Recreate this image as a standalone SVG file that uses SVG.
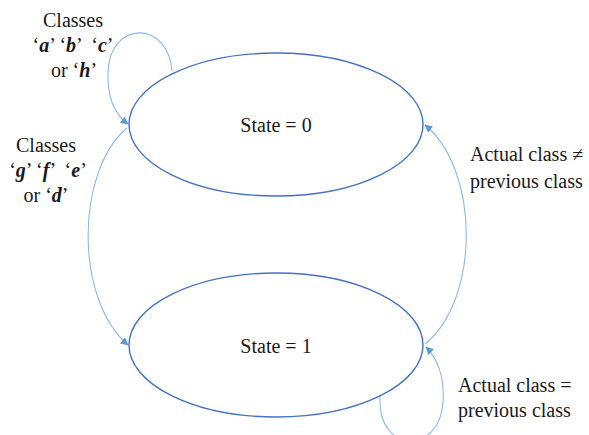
<svg xmlns="http://www.w3.org/2000/svg" width="589" height="435" viewBox="0 0 589 435">
  <defs>
    <marker id="arrow" viewBox="0 0 10 10" refX="9" refY="5" markerWidth="8" markerHeight="8" markerUnits="userSpaceOnUse" orient="auto">
      <path d="M0,0 L10,5 L0,10 z" fill="#5B9BD5"/>
    </marker>
  </defs>

  <!-- transitions -->
  <g id="connectors" fill="none" stroke="#8FB8E6" stroke-width="1.1">
    <!-- self loop on state 0 -->
    <path marker-end="url(#arrow)" d="M172,71 C168,20 110,20 108,72 C107,100 117,116 128,124"/>
    <!-- state 0 to state 1 -->
    <path marker-end="url(#arrow)" d="M127,128 C75,172 75,300 128,345"/>
    <!-- state 1 to state 0 -->
    <path marker-end="url(#arrow)" d="M425,344 C480,300 480,170 425,125"/>
    <!-- self loop on state 1 -->
    <path marker-end="url(#arrow)" d="M380,396 C377,455 440,455 443,402 C445,375 436,357 426,347"/>
  </g>

  <g id="state0">
    <ellipse cx="276" cy="124.5" rx="147" ry="71.5" fill="#ffffff" stroke="#4472C4" stroke-width="1.4"/>
    <text style="font-family:'Liberation Serif';font-size:20px" fill="#1a1a1a" text-anchor="middle" x="276" y="132">State = 0</text>
  </g>

  <g id="state1">
    <ellipse cx="276" cy="345" rx="147" ry="72" fill="#ffffff" stroke="#4472C4" stroke-width="1.4"/>
    <text style="font-family:'Liberation Serif';font-size:20px" fill="#1a1a1a" text-anchor="middle" x="276" y="353">State = 1</text>
  </g>

  <g id="label-loop0">
    <text style="font-family:'Liberation Serif';font-size:20px" fill="#1a1a1a" text-anchor="middle" x="73" y="27">Classes</text>
    <text style="font-family:'Liberation Serif';font-size:20px" fill="#1a1a1a" text-anchor="middle" x="73" y="52">&#8216;<tspan font-weight="bold" font-style="italic">a</tspan>&#8217; &#8216;<tspan font-weight="bold" font-style="italic">b</tspan>&#8217; <tspan dx="5">&#8216;</tspan><tspan font-weight="bold" font-style="italic">c</tspan>&#8217;</text>
    <text style="font-family:'Liberation Serif';font-size:20px" fill="#1a1a1a" text-anchor="middle" x="74" y="77">or &#8216;<tspan font-weight="bold" font-style="italic">h</tspan>&#8217;</text>
  </g>

  <g id="label-0to1">
    <text style="font-family:'Liberation Serif';font-size:20px" fill="#1a1a1a" text-anchor="middle" x="46" y="152">Classes</text>
    <text style="font-family:'Liberation Serif';font-size:20px" fill="#1a1a1a" text-anchor="middle" x="48" y="177">&#8216;<tspan font-weight="bold" font-style="italic">g</tspan>&#8217; &#8216;<tspan font-weight="bold" font-style="italic">f</tspan>&#8217; <tspan dx="5">&#8216;</tspan><tspan font-weight="bold" font-style="italic">e</tspan>&#8217;</text>
    <text style="font-family:'Liberation Serif';font-size:20px" fill="#1a1a1a" text-anchor="middle" x="46" y="202">or &#8216;<tspan font-weight="bold" font-style="italic">d</tspan>&#8217;</text>
  </g>

  <g id="label-1to0">
    <text style="font-family:'Liberation Serif';font-size:20px" fill="#1a1a1a" x="470" y="161">Actual class &#8800;</text>
    <text style="font-family:'Liberation Serif';font-size:20px" fill="#1a1a1a" x="470" y="188">previous class</text>
  </g>

  <g id="label-loop1">
    <text style="font-family:'Liberation Serif';font-size:20px" fill="#1a1a1a" x="458" y="392">Actual class =</text>
    <text style="font-family:'Liberation Serif';font-size:20px" fill="#1a1a1a" x="458" y="417">previous class</text>
  </g>
</svg>
